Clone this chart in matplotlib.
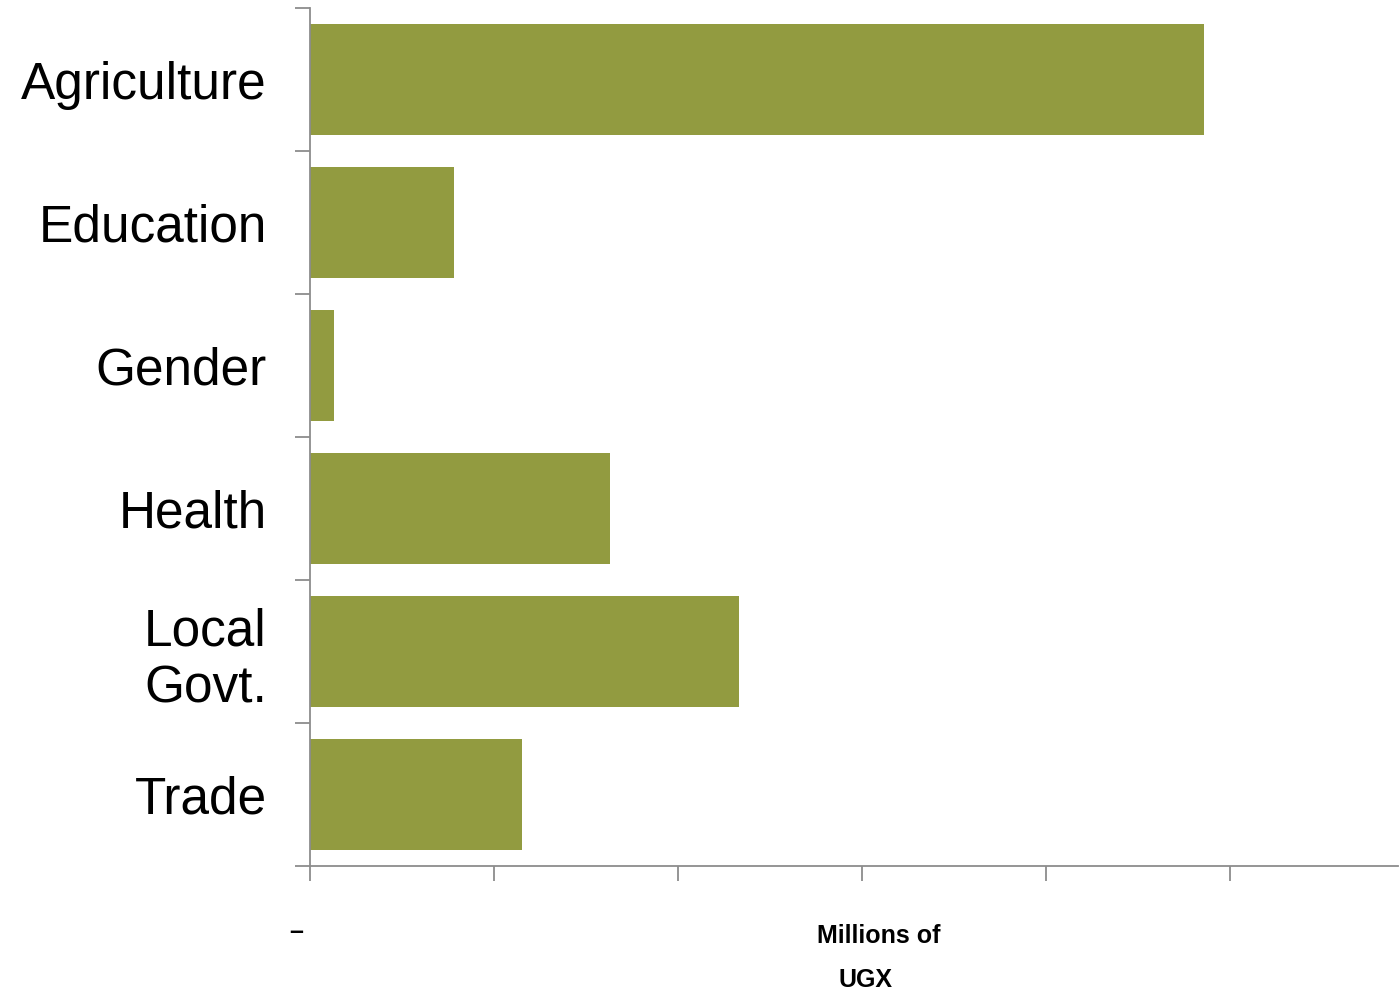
import matplotlib.pyplot as plt
import matplotlib.transforms as mtransforms
import numpy as np

# dane (jednostka = jedna podziałka osi X)
kategorie = ["Agriculture", "Education", "Gender", "Health", "Local\nGovt.", "Trade"]
wartosci = [4.86, 0.78, 0.13, 1.63, 2.33, 1.15]
x_ticks = [0, 1, 2, 3, 4, 5]
x_tick_labels = ["–", "", "", "", "", ""]

kolor = "#929b40"
szary = "#8c8c8c"

fig = plt.figure(figsize=(13.99, 9.92), dpi=100)
ax = fig.add_axes([310 / 1399, 1 - 866 / 992, 1088 / 1399, 858 / 992])

y = np.arange(len(kategorie))
ax.barh(y, wartosci, height=0.77, color=kolor)

ax.set_ylim(len(kategorie) - 0.5, -0.5)
ax.set_xlim(0, 1088 / 184)

for s in ["top", "right"]:
    ax.spines[s].set_visible(False)
for s in ["left", "bottom"]:
    ax.spines[s].set_color(szary)
    ax.spines[s].set_linewidth(1.3)

# etykiety kategorii (bez kresek) + kreski na granicach kategorii
ax.set_yticks(y)
ax.set_yticklabels(kategorie, fontsize=37, family="Liberation Sans", ha="right",
                   multialignment="left")
ax.tick_params(axis="y", which="major", length=0, pad=31)
ax.set_yticks(np.arange(-0.5, len(kategorie)), minor=True)
ax.tick_params(axis="y", which="minor", length=11, width=1.3, color=szary)

ax.set_xticks(x_ticks)
ax.set_xticklabels(x_tick_labels, fontsize=18, fontweight="bold", family="Liberation Sans")
ax.tick_params(axis="x", length=11, width=1.3, color=szary, pad=28)
przes = mtransforms.ScaledTranslation(-7 / 100, 0, fig.dpi_scale_trans)
for lab in ax.get_xticklabels():
    lab.set_ha("right")
    lab.set_transform(lab.get_transform() + przes)

fig.text(879 / 1399, 1 - 936 / 992, "Millions of", ha="center", va="center",
         fontsize=18, fontweight="bold", family="Liberation Sans")
fig.text(866 / 1399, 1 - 980 / 992, "UGX", ha="center", va="center",
         fontsize=18, fontweight="bold", family="Liberation Sans")

fig.savefig("out.png", dpi=100)
